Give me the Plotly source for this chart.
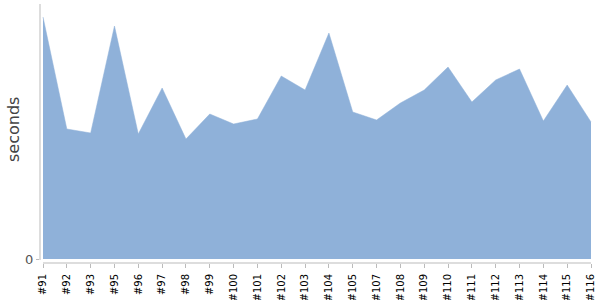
import plotly.graph_objects as go

builds = ["#91", "#92", "#93", "#95", "#96", "#97", "#98", "#99", "#100", "#101",
          "#102", "#103", "#104", "#105", "#107", "#108", "#109", "#110", "#111",
          "#112", "#113", "#114", "#115", "#116"]
seconds = [242, 130, 126, 233, 125, 171, 120, 145, 135, 140,
           183, 169, 226, 147, 139, 156, 169, 192, 157,
           179, 190, 138, 174, 137]

n = len(builds)
plot_w = 552.0
step = plot_w / (n - 1 + 4 / 23.83)
left_pad = 3 / step
right_pad = 1 / step

fig = go.Figure()
fig.add_trace(go.Scatter(
    x=builds, y=seconds, mode="lines", fill="tozeroy",
    fillcolor="#8fb1d9", line=dict(color="#8fb1d9", width=0.5),
    hoverinfo="x+y", showlegend=False,
))

fig.update_layout(
    width=600, height=300,
    margin=dict(l=40, r=8, t=4, b=37),
    paper_bgcolor="white", plot_bgcolor="white",
    font=dict(family="DejaVu Sans", color="#000"),
    xaxis=dict(
        type="category", range=[-left_pad, n - 1 + right_pad],
        showgrid=False, zeroline=False, showline=False, automargin=False,
        ticks="outside", ticklen=4, tickcolor="#bbbbbb", tickangle=-90,
        tickfont=dict(size=10, color="#000"), ticklabelstandoff=2,
    ),
    yaxis=dict(
        range=[-4, 255], showgrid=False, zeroline=False, showline=False,
        automargin=False,
        tickvals=[0], ticktext=["0"], ticks="outside", ticklen=3,
        tickcolor="#bbbbbb", tickfont=dict(size=13, color="#555"),
    ),
    annotations=[
        dict(text="seconds", xref="paper", yref="paper",
             x=(13 - 40) / plot_w, y=(263 - 130) / 259,
             xanchor="center", yanchor="middle", textangle=-90,
             showarrow=False, font=dict(size=16, color="#444")),
    ],
    shapes=[
        dict(type="line", xref="paper", yref="paper", x0=0, x1=0,
             y0=3 / 259, y1=1, line=dict(color="#bbbbbb", width=1)),
        dict(type="line", xref="x", yref="paper", x0=0, x1=n - 1,
             y0=0, y1=0, line=dict(color="#bbbbbb", width=1)),
    ],
)

fig.write_html("out.html")
